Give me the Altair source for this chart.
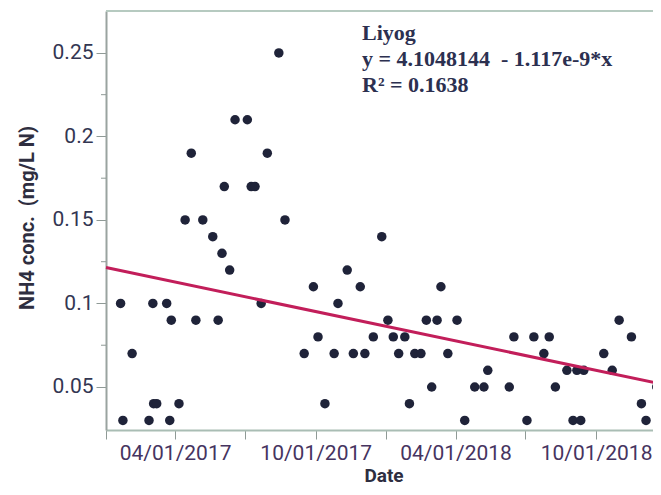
import altair as alt
import pandas as pd

# ---- data ----
dates = [
    "2017-01-20", "2017-01-23", "2017-02-04", "2017-02-26", "2017-03-03", "2017-03-04",
    "2017-03-08", "2017-03-21", "2017-03-25", "2017-03-27", "2017-04-06", "2017-04-14",
    "2017-04-22", "2017-04-28", "2017-05-07", "2017-05-20", "2017-05-27", "2017-06-01",
    "2017-06-04", "2017-06-11", "2017-06-18", "2017-07-04", "2017-07-09", "2017-07-14",
    "2017-07-22", "2017-07-30", "2017-08-14", "2017-08-22", "2017-09-16", "2017-09-28",
    "2017-10-04", "2017-10-13", "2017-10-25", "2017-10-30", "2017-11-11", "2017-11-19",
    "2017-11-28", "2017-12-04", "2017-12-15", "2017-12-26", "2018-01-03", "2018-01-10",
    "2018-01-17", "2018-01-25", "2018-01-31", "2018-02-07", "2018-02-15", "2018-02-22",
    "2018-03-01", "2018-03-08", "2018-03-13", "2018-03-22", "2018-04-03", "2018-04-13",
    "2018-04-26", "2018-05-08", "2018-05-13", "2018-06-10", "2018-06-16", "2018-07-03",
    "2018-07-12", "2018-07-25", "2018-08-01", "2018-08-09", "2018-08-24", "2018-09-01",
    "2018-09-06", "2018-09-11", "2018-09-15", "2018-10-11", "2018-10-22", "2018-10-31",
    "2018-11-16", "2018-11-29", "2018-12-05", "2018-12-19",
]
nh4 = [
    0.10, 0.03, 0.07, 0.03, 0.10, 0.04,
    0.04, 0.10, 0.03, 0.09, 0.04, 0.15,
    0.19, 0.09, 0.15, 0.14, 0.09, 0.13,
    0.17, 0.12, 0.21, 0.21, 0.17, 0.17,
    0.10, 0.19, 0.25, 0.15, 0.07, 0.11,
    0.08, 0.04, 0.07, 0.10, 0.12, 0.07,
    0.11, 0.07, 0.08, 0.14, 0.09, 0.08,
    0.07, 0.08, 0.04, 0.07, 0.07, 0.09,
    0.05, 0.09, 0.11, 0.07, 0.09, 0.03,
    0.05, 0.05, 0.06, 0.05, 0.08, 0.03,
    0.08, 0.07, 0.08, 0.05, 0.06, 0.03,
    0.06, 0.03, 0.06, 0.07, 0.06, 0.09,
    0.08, 0.04, 0.03, 0.05,
]

# regression printed on the chart (x = seconds since 1904-01-01)
intercept = 4.1048144
slope = -1.117e-9
annotation = ["Liyog", "y = 4.1048144\u00a0 - 1.117e-9*x", "R\u00b2 = 0.1638"]

x_start = "2017-01-01T00:00:00Z"
x_end = "2018-12-24T12:00:00Z"
y_labels = [0.05, 0.1, 0.15, 0.2, 0.25]
y_minor = [0.075, 0.125, 0.175, 0.225]
x_ticks = ["2017-01-01", "2017-04-01", "2017-07-01", "2017-10-01",
           "2018-01-01", "2018-04-01", "2018-07-01", "2018-10-01"]

df = pd.DataFrame({"date": dates, "nh4": nh4})
line_df = pd.DataFrame({"date": [x_start, x_end]})
minor_df = pd.DataFrame({"nh4": y_minor})

W, H = 555, 419
LABEL_FONT = "Roboto"
AX_GRAY = "#9aa3a0"

def dt(s):
    y, m, d = s.split("-")
    return alt.DateTime(year=int(y), month=int(m), date=int(d), utc=True)

x_scale = alt.Scale(type="utc",
                    domain=[alt.DateTime(year=2017, month=1, date=1, utc=True),
                            alt.DateTime(year=2018, month=12, date=24, hours=12, utc=True)])
y_scale = alt.Scale(domain=[0.02425, 0.2751], nice=False, zero=False)

x_axis = alt.Axis(
    values=[dt(s) for s in x_ticks], format="%m/%d/%Y",
    labelExpr="(utcmonth(datum.value) == 3 || utcmonth(datum.value) == 9) ? datum.label : ''",
    title="Date", titleFont=LABEL_FONT, titleFontSize=19, titleFontWeight="bold",
    titleColor="#2e2e40", titleY=36, titleBaseline="top",
    labelFont=LABEL_FONT, labelFontSize=21, labelColor="#46345f",
    labelPadding=3, tickSize=9, tickColor="#8f9a96", domainColor="#a9bdb4",
    domainWidth=2, grid=False, labelFlush=False, labelOverlap=False,
)
y_axis = alt.Axis(
    values=y_labels, format=".2~f",
    title="NH4 conc.\u00a0 (mg/L N)", titleFont=LABEL_FONT, titleFontSize=20,
    titleFontWeight="bold", titleColor="#2e2e40", titleX=-79, titleY=H / 2 - 3,
    titleAngle=270, titleAlign="center", titleBaseline="middle",
    labelFont=LABEL_FONT, labelFontSize=21, labelColor="#333652",
    labelPadding=3, tickSize=10, tickColor="#8f9a96", domainColor=AX_GRAY,
    domainWidth=2, grid=False,
)

points = alt.Chart(df).mark_circle(size=90, opacity=1, color="#1f2339").encode(
    x=alt.X("date:T", scale=x_scale, axis=x_axis),
    y=alt.Y("nh4:Q", scale=y_scale, axis=y_axis),
)

fit = alt.Chart(line_df).transform_calculate(
    fit=f"{intercept} + ({slope}) * (toDate(datum.date) / 1000 + 2082844800)"
).mark_line(color="#c21e5a", strokeWidth=3).encode(
    x=alt.X("date:T", scale=x_scale),
    y=alt.Y("fit:Q", scale=y_scale),
)

minor = alt.Chart(minor_df).mark_rule(color="#8f9a96", strokeWidth=1).encode(
    y=alt.Y("nh4:Q", scale=y_scale),
    x=alt.value(-5), x2=alt.value(0),
)

top_line = alt.Chart(line_df).mark_rule(color="#b6cac0", strokeWidth=2).encode(
    x=alt.value(0), x2=alt.value(W), y=alt.value(0),
)

texts = []
for i, t in enumerate(annotation):
    texts.append(
        alt.Chart(pd.DataFrame({"t": [t]})).mark_text(
            align="left", baseline="middle", font="Liberation Serif",
            fontSize=22, fontWeight="bold", color="#2c3050",
        ).encode(text="t:N", x=alt.value(256), y=alt.value(22 + 26 * i))
    )

chart = alt.layer(top_line, minor, points, fit, *texts).properties(
    width=W, height=H,
    padding={"left": 98, "top": 3, "right": -8, "bottom": 57},
    autosize="none",
).configure_view(stroke=None)

chart.save("out.html", embed_options={"renderer": "svg", "actions": False})
